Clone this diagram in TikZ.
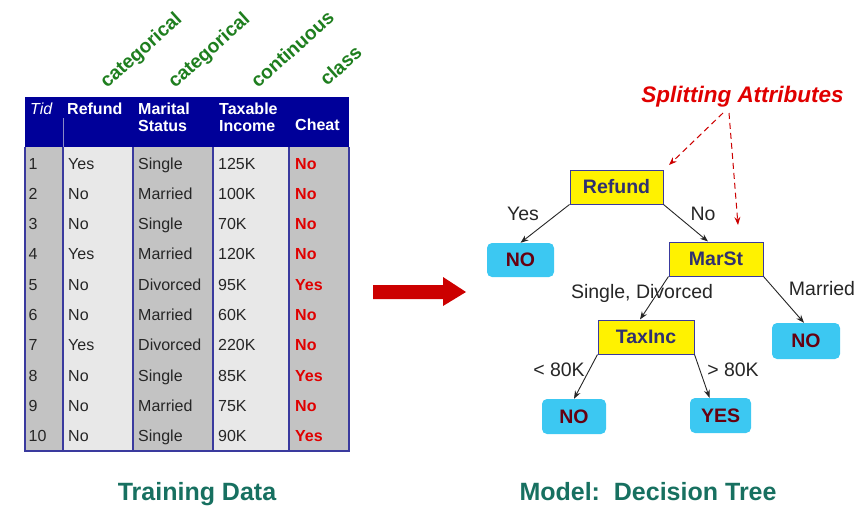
\documentclass[tikz,border=0pt]{standalone}
\usepackage{fontspec}
\setmainfont{Liberation Sans}
\usetikzlibrary{arrows.meta,calc}
\definecolor{hdrnavy}{HTML}{000099}
\definecolor{lineblue}{HTML}{3A3A9E}
\definecolor{darkcell}{HTML}{C3C3C3}
\definecolor{lightcell}{HTML}{E8E8E8}
\definecolor{clsred}{HTML}{E00000}
\definecolor{typegreen}{HTML}{1E7E1E}
\definecolor{titleteal}{HTML}{177060}
\definecolor{boxtext}{HTML}{303070}
\definecolor{leaftext}{HTML}{660010}
\definecolor{leafcyan}{HTML}{3CC8F2}
\definecolor{arrowred}{HTML}{CC0000}
\begin{document}
\begin{tikzpicture}[x=1pt,y=-1pt,
  cell/.style={anchor=base west,inner sep=0pt,font=\fontsize{16}{18}\selectfont,text=black!85},
  clscell/.style={anchor=base west,inner sep=0pt,font=\fontsize{16}{18}\selectfont\bfseries,text=clsred},
  hdr/.style={anchor=base west,inner sep=0pt,font=\fontsize{16}{18}\selectfont\bfseries,text=white},
  typ/.style={anchor=base west,inner sep=0pt,rotate=42,font=\fontsize{19.3}{21}\selectfont\bfseries,text=typegreen},
  title/.style={anchor=base,inner sep=0pt,font=\fontsize{25}{28}\selectfont\bfseries,text=titleteal},
  attr/.style={draw=lineblue,line width=1pt,fill=yellow,inner sep=0pt,minimum height=34pt,font=\fontsize{19.5}{22}\selectfont\bfseries,text=boxtext},
  leaf/.style={fill=leafcyan,rounded corners=5pt,inner sep=0pt,minimum height=35pt,font=\fontsize{19.5}{22}\selectfont\bfseries,text=leaftext},
  lbl/.style={anchor=base,inner sep=0pt,font=\fontsize{19.5}{22}\selectfont,text=black!85},
  edge/.style={draw=black!85,line width=0.9pt,-{Stealth[length=8pt,width=6pt]}},
  hint/.style={draw=arrowred,line width=1pt,dash pattern=on 6pt off 4pt,-{Stealth[length=8pt,width=6pt]}}
]
\useasboundingbox (0,0) rectangle (864,514);

% ---------- table ----------
\fill[hdrnavy] (25,97) rectangle (349,147);
\fill[darkcell]  (25,147) rectangle (63,451);
\fill[lightcell] (63,147) rectangle (133,451);
\fill[darkcell]  (133,147) rectangle (213,451);
\fill[lightcell] (213,147) rectangle (289,451);
\fill[darkcell]  (289,147) rectangle (349,451);
\draw[lineblue!60!white,line width=0.8pt] (63,118) -- (63,147);
\foreach \xx in {25,63,133,213,289,349}
  \draw[lineblue,line width=1.2pt] (\xx,147) -- (\xx,451);
\draw[lineblue,line width=1.4pt] (24.4,451) -- (349.6,451);

\node[hdr,font=\fontsize{16}{18}\selectfont\itshape] (hTid) at (30,114) {Tid};
\node[hdr] (hRefund) at (67,114) {Refund};
\node[hdr] (hMar1) at (138,114) {Marital};
\node[hdr] (hMar2) at (138,131) {Status};
\node[hdr] (hTax1) at (219,114) {Taxable};
\node[hdr] (hTax2) at (219,131) {Income};
\node[hdr] (hCheat) at (295,130) {Cheat};

\foreach \i/\r/\m/\t/\c in {1/Yes/Single/125K/No,2/No/Married/100K/No,3/No/Single/70K/No,4/Yes/Married/120K/No,5/No/Divorced/95K/Yes,6/No/Married/60K/No,7/Yes/Divorced/220K/No,8/No/Single/85K/Yes,9/No/Married/75K/No,10/No/Single/90K/Yes}{
  \node[cell] (tid\i) at (28.5,{169+(\i-1)*30.33}) {\i};
  \node[cell] (ref\i) at (68,{169+(\i-1)*30.33}) {\r};
  \node[cell] (mar\i) at (138,{169+(\i-1)*30.33}) {\m};
  \node[cell] (tax\i) at (218,{169+(\i-1)*30.33}) {\t};
  \node[clscell] (chz\i) at (295,{169+(\i-1)*30.33}) {\c};
}

\node[typ] (ty1) at (107,89) {categorical};
\node[typ] (ty2) at (175,89) {categorical};
\node[typ] (ty3) at (258,89) {continuous};
\node[typ] (ty4) at (327,87) {class};

\node[title] (ttrain) at (197,500) {Training Data};
\node[title] (tmodel) at (648,500) {Model:\ \ Decision Tree};

% ---------- big arrow ----------
\fill[arrowred] (373,285) -- (443,285) -- (443,277) -- (466,292) -- (443,306) -- (443,299) -- (373,299) -- cycle;

% ---------- tree ----------
\node[anchor=base,inner sep=0pt,font=\fontsize{22.5}{25}\selectfont\bfseries\itshape,text=clsred] (split) at (742.5,102) {Splitting Attributes};
\node[attr,minimum width=93pt] (refund) at (616.5,187) {Refund};
\node[attr,minimum width=94pt] (marst) at (716,259) {MarSt};
\node[attr,minimum width=96pt] (taxinc) at (646,337) {TaxInc};
\node[leaf,minimum width=67pt,minimum height=34pt] (no1) at (520.5,260) {NO};
\node[leaf,minimum width=68pt,minimum height=36pt] (no2) at (806,341) {NO};
\node[leaf,minimum width=64pt] (no3) at (574,416.5) {NO};
\node[leaf,minimum width=61pt] (yes1) at (720.5,415.5) {YES};

\draw[edge] (refund.south west) -- (no1.north);
\draw[edge] (refund.south east) -- ($(marst.north)+(-8,0)$);
\draw[edge] (marst.south west) -- ($(taxinc.north)+(-6,0)$);
\draw[edge] (marst.south east) -- ($(no2.north)+(-2,0)$);
\draw[edge] (taxinc.south west) -- (no3.north);
\draw[edge] (taxinc.south east) -- ($(yes1.north)+(-11,0)$);

\node[lbl] (lyes) at (523,220) {Yes};
\node[lbl] (lno) at (703,220) {No};
\node[lbl] (lsd) at (642,298) {Single, Divorced};
\node[lbl] (lmar) at (822,295) {Married};
\node[lbl] (llt) at (559,376) {< 80K};
\node[lbl] (lgt) at (733,376) {> 80K};

\coordinate (s1) at (723,113);
\coordinate (s2) at (729,113);
\coordinate (e1) at (669,165);
\coordinate (e2) at (738,225);
\draw[hint] (s1) -- (e1);
\draw[hint] (s2) -- (e2);
\end{tikzpicture}
\end{document}
